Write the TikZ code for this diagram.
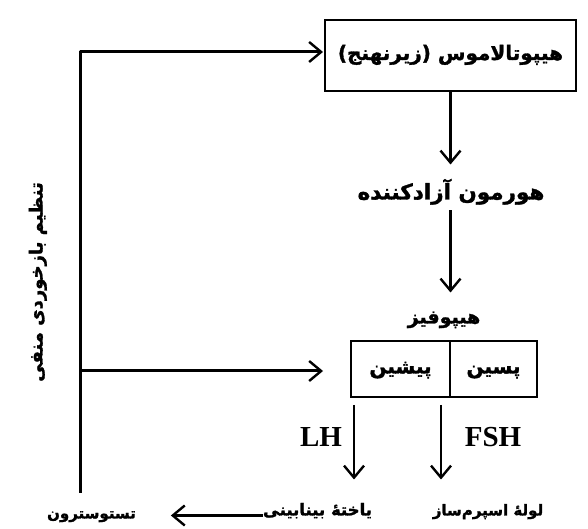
\documentclass[tikz,border=0pt]{standalone}
\usepackage{fontspec}
\setmainfont{Liberation Serif}
\newfontfamily\arabicfont[Script=Arabic,BoldFeatures={FakeBold=1.5}]{DejaVu Sans}
\TeXXeTstate=1
\usetikzlibrary{arrows.meta}

\begin{document}
\begin{tikzpicture}[x=1pt,y=1pt,
  fabig/.style={font=\arabicfont\bfseries\fontsize{20}{20}\selectfont, text height=14pt, text depth=5pt, inner sep=0pt, outer sep=0pt},
  fasmall/.style={font=\arabicfont\bfseries\fontsize{15}{15}\selectfont, text height=11pt, text depth=4pt, inner sep=0pt, outer sep=0pt},
  latin/.style={font=\bfseries\fontsize{29}{29}\selectfont, inner sep=0pt, outer sep=0pt},
  box/.style={draw=drawColor, line width=2pt, inner sep=0pt},
  conn/.style={draw=drawColor, line width=2.4pt, line join=round},
  arr/.style={conn, -{Straight Barb[length=12pt, width=20pt, line width=2.4pt]}}]
\definecolor{drawColor}{RGB}{0,0,0}
\path[use as bounding box,fill=white] (0,0) rectangle (588,529);

\node[fabig,box,minimum width=251pt,minimum height=71pt] (hyp) at (450.5,473.5) {\beginR هیپوتالاموس (زیرنهنج)\endR};

\node[fabig,font=\arabicfont\bfseries\fontsize{21.5}{21.5}\selectfont] (rel) at (451,334) {\beginR هورمون آزادکننده\endR};

\node[fabig,font=\arabicfont\bfseries\fontsize{19}{19}\selectfont] (pit) at (444,210) {\beginR هیپوفیز\endR};

\node[fabig,box,minimum width=99pt,minimum height=56pt] (ant) at (400.5,160) {\beginR پیشین\endR};

\node[fabig,box,minimum width=87pt,minimum height=56pt] (post) at (493.5,160) {\beginR پسین\endR};

\node[latin] (lh) at (321,92) {LH};

\node[latin] (fsh) at (493,92) {FSH};

\node[fasmall] (tubule) at (488,17) {\beginR لولهٔ اسپرم‌ساز\endR};

\node[fasmall,font=\arabicfont\bfseries\fontsize{16.5}{16.5}\selectfont] (leydig) at (317.5,17) {\beginR یاختهٔ بینابینی\endR};

\node[fasmall] (testo) at (91.5,14) {\beginR تستوسترون\endR};

\node[fabig,font=\arabicfont\bfseries\fontsize{18}{18}\selectfont,rotate=90] (fblabel) at (38,247) {\beginR تنظیم بازخوردی منفی\endR};

\coordinate (fb) at (80,36);

\draw[arr,shorten >=21pt] (hyp.south) -- (hyp.south |- rel.north);

\draw[arr,shorten <=6pt,shorten >=17pt] (hyp.south |- rel.south) -- (hyp.south |- pit.north);

\draw[arr,shorten <=8pt,shorten >=25pt] ([xshift=3pt]ant.south west) -- ([xshift=3pt]ant.south west |- leydig.north);

\draw[arr,shorten <=8pt,shorten >=25pt] ([xshift=-9pt]ant.south east) -- ([xshift=-9pt]ant.south east |- tubule.north);

\draw[arr,shorten >=35pt] (leydig.base west) -- (leydig.base west -| testo.east);

\draw[arr,line width=3pt,shorten >=2pt] (fb) |- ([yshift=3.5pt]hyp.west);

\draw[arr,line width=3pt,shorten >=28pt] (fb |- ant.west) ++(0,-2) -- ([yshift=-2pt]ant.west);
\end{tikzpicture}
\end{document}
